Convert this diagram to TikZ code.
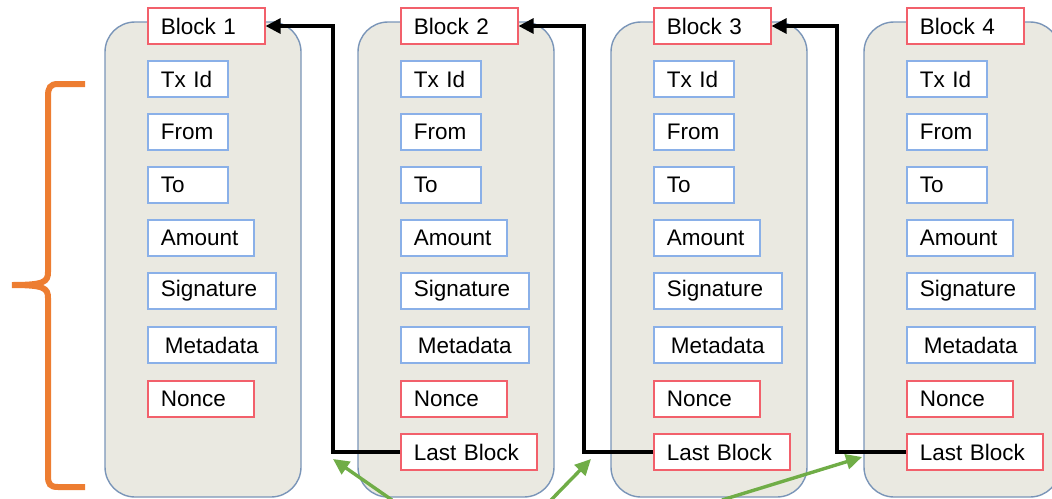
\documentclass[tikz,border=0pt]{standalone}
\usepackage{fontspec}
\setmainfont{Liberation Sans}
\usetikzlibrary{arrows.meta}
\definecolor{contfill}{HTML}{EAE9E1}
\definecolor{contdraw}{HTML}{7A95B8}
\definecolor{bluebox}{HTML}{8AB0E8}
\definecolor{redbox}{HTML}{F2606B}
\definecolor{braceorange}{HTML}{ED7D31}
\definecolor{arrowgreen}{HTML}{70AD47}
\tikzset{
  container/.style={draw=contdraw, fill=contfill, line width=1.4pt, rounded corners=30pt},
  field/.style={draw=bluebox, fill=white, line width=1.6pt, anchor=west, minimum height=36pt,
    inner xsep=13pt, inner ysep=0pt, align=left, font=\fontsize{22.5}{24}\selectfont},
  redfield/.style={field, draw=redbox},
  link/.style={line width=3.2pt, black, -{Triangle[length=15pt,width=15pt]}},
  pointer/.style={line width=3.4pt, arrowgreen, -{Triangle[length=16pt,width=15pt]}},
  bracestyle/.style={line width=6pt, braceorange},
}
\begin{document}
\begin{tikzpicture}[x=1pt,y=-1pt]
\useasboundingbox (0,0) rectangle (1052,498);
\clip (0,0) rectangle (1052,498);
\foreach \i in {1,2,3,4}{
  \pgfmathsetmacro{\dx}{253*(\i-1)}
  \path[container] (105+\dx,22) rectangle (301+\dx,497);
  \node[redfield, text width=91pt] (b\i) at (147+\dx,26) {Block \i};
  \node[field, text width=54pt] (tx\i) at (147+\dx,79) {Tx Id};
  \node[field, text width=54pt] (fr\i) at (147+\dx,132) {From};
  \node[field, text width=54pt] (to\i) at (147+\dx,185) {To};
  \node[field, text width=80pt] (am\i) at (147+\dx,238) {Amount};
  \node[field, text width=102pt] (sg\i) at (147+\dx,291) {Signature};
  \node[field, inner xsep=0pt, text width=128pt, align=center] (md\i) at (147+\dx,345) {Metadata};
  \node[redfield, text width=80pt] (nc\i) at (147+\dx,399) {Nonce};
}
\foreach \i in {2,3,4}{
  \pgfmathsetmacro{\dx}{253*(\i-1)}
  \node[redfield, text width=110pt] (lb\i) at (147+\dx,452) {Last Block};
}
\draw[link] (lb2.west) -- ++(-67,0) |- (b1.east);
\draw[link] (lb3.west) -- ++(-69,0) |- (b2.east);
\draw[link] (lb4.west) -- ++(-69,0) |- (b3.east);
% green pointers
\coordinate (g1s) at (392,500);
\coordinate (g1e) at (333,459);
\coordinate (g2s) at (551,500);
\coordinate (g2e) at (591,459);
\coordinate (g3s) at (722,500);
\coordinate (g3e) at (862,457);
\draw[pointer] (g1s) -- (g1e);
\draw[pointer] (g2s) -- (g2e);
\draw[pointer] (g3s) -- (g3e);
% orange brace
\draw[bracestyle] (85,84) -- (58,84) .. controls (50,84) and (48,88) .. (48,96)
  -- (48,272) .. controls (48,282) and (44,285) .. (12,285)
  .. controls (44,285) and (48,288) .. (48,298)
  -- (48,476) .. controls (48,484) and (50,487) .. (58,487) -- (85,487);
\end{tikzpicture}
\end{document}
